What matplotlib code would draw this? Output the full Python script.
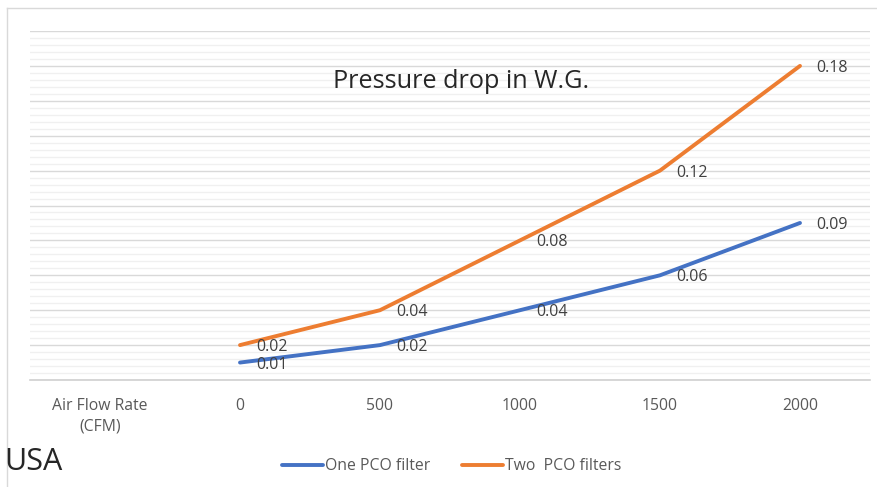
import matplotlib
matplotlib.use("Agg")
import matplotlib.pyplot as plt
from matplotlib.lines import Line2D
import numpy as np

categories = ["Air Flow Rate\n(CFM)", "0", "500", "1000", "1500", "2000"]
one_filter = [None, 0.01, 0.02, 0.04, 0.06, 0.09]
two_filters = [None, 0.02, 0.04, 0.08, 0.12, 0.18]
series_names = ["One PCO filter", "Two  PCO filters"]
title = "Pressure drop in W.G."

plt.rcParams['font.family'] = ['Open Sans', 'DejaVu Sans']

W, H = 878, 487
fig = plt.figure(figsize=(W/100, H/100), dpi=100)
ax = fig.add_axes([30/W, 1-380/H, 840/W, 349/H])

blue = "#4472C4"
orange = "#ED7D31"
txt = "#404040"

x = np.arange(len(categories))
for vals, col in [(one_filter, blue), (two_filters, orange)]:
    xs = [xi for xi, v in zip(x, vals) if v is not None]
    ys = [v for v in vals if v is not None]
    ax.plot(xs, ys, color=col, lw=2.8, solid_capstyle='round', zorder=3)
    for xi, v in zip(xs, ys):
        ax.annotate(f"{v:.2f}", (xi, v), xytext=(12, -1.5), textcoords='offset points',
                    ha='left', va='center', fontsize=11.5, color=txt, zorder=4)

ax.set_xlim(-0.5, len(categories)-0.5)
ax.set_ylim(0, 0.2)
ax.set_yticks(np.arange(0, 0.2001, 0.02))
ax.set_yticks(np.arange(0, 0.2001, 0.004), minor=True)
ax.yaxis.grid(True, which='major', color='#d9d9d9', lw=1.0, zorder=1)
ax.yaxis.grid(True, which='minor', color='#f0f0f0', lw=1.0, zorder=0)
ax.tick_params(axis='y', which='both', left=False, labelleft=False)
ax.set_xticks(x)
ax.set_xticklabels(categories, fontsize=11.3, color="#595959", linespacing=1.35)
ax.tick_params(axis='x', length=0, pad=13)
for s in ['top', 'right', 'left']:
    ax.spines[s].set_visible(False)
ax.spines['bottom'].set_color('#d0d0d0')
ax.spines['bottom'].set_linewidth(1.2)

fig.text(461/W, 1-82/H, title, ha='center', va='center', fontsize=18.2, color='#262626')
fig.text(4/W, 1-462/H, "USA", ha='left', va='center', fontsize=22, color='#262626')

handles = [Line2D([], [], color=blue, lw=2.8, solid_capstyle='round'),
           Line2D([], [], color=orange, lw=2.8, solid_capstyle='round')]
fig.legend(handles, series_names, loc='center', bbox_to_anchor=(452/W, 1-466/H), ncol=2,
           frameon=False, fontsize=11.3, handlelength=2.6, handletextpad=0.15, columnspacing=2.0,
           labelcolor="#595959")

# chart area border (left and top)
fig.add_artist(Line2D([7.5/W, 7.5/W], [0, 1-8/H], transform=fig.transFigure, color='#d9d9d9', lw=1))
fig.add_artist(Line2D([7.5/W, 1], [1-8/H, 1-8/H], transform=fig.transFigure, color='#d9d9d9', lw=1))

fig.savefig("out.png", dpi=100)
